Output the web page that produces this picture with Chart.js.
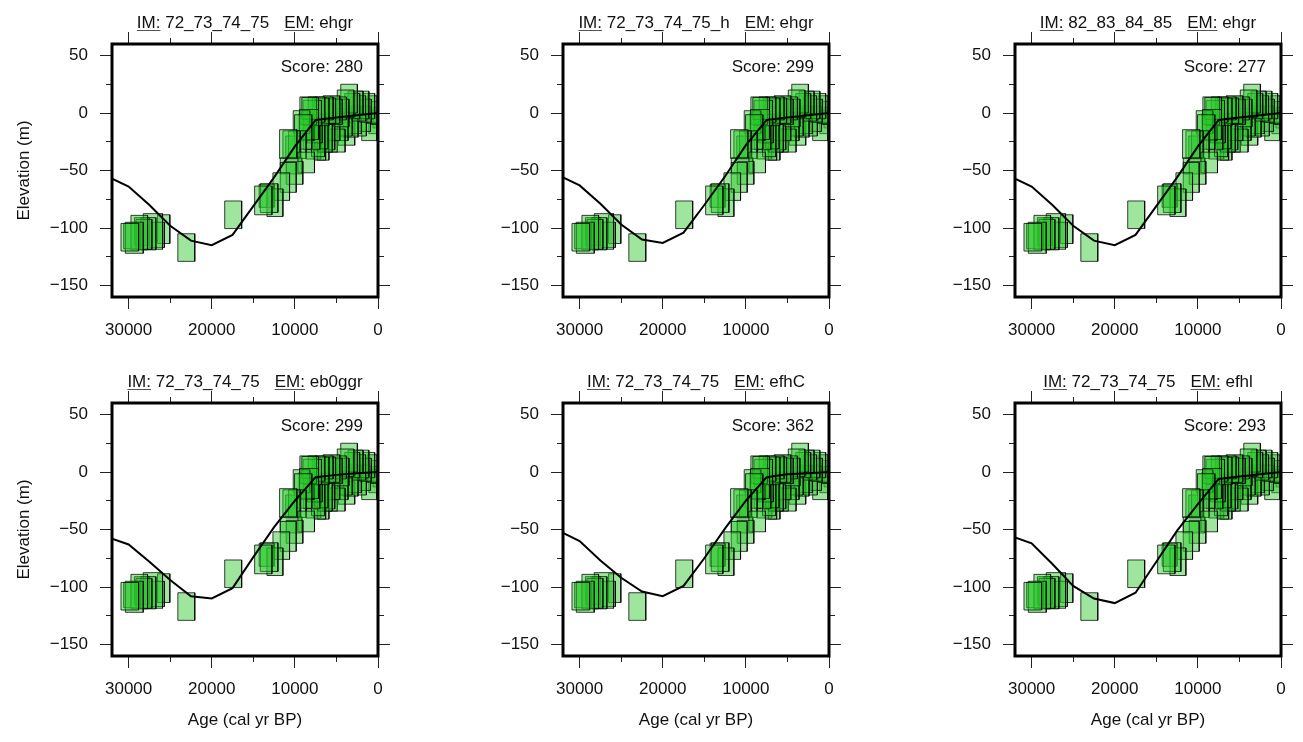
<!DOCTYPE html>
<html>
<head>
<meta charset="utf-8">
<script src="https://cdn.jsdelivr.net/npm/chart.js@4.4.0/dist/chart.umd.min.js"></script>
<style>
  html, body { margin: 0; padding: 0; background: #fff; }
  body { width: 1303px; height: 742px; position: relative; overflow: hidden; }
  canvas { position: absolute; }
</style>
</head>
<body>
<script>
// panel labels
const panelIM = ['72_73_74_75', '72_73_74_75_h', '82_83_84_85', '72_73_74_75', '72_73_74_75', '72_73_74_75'];
const panelEM = ['ehgr', 'ehgr', 'ehgr', 'eb0ggr', 'efhC', 'efhl'];
const panelScore = [280, 299, 277, 299, 362, 293];

// tick positions (labelled ones are every 10000 yr / 50 m)
const xTickValues = [0, 5000, 10000, 15000, 20000, 25000, 30000];
const yTickValues = [-150, -125, -100, -75, -50, -25, 0, 25, 50];

// model sea-level curves (age in cal yr BP, elevation in m)
const modelAge = [32000, 30000, 27500, 25000, 22500, 20000, 17500, 15000, 12500, 10000, 7500, 5000, 2500, 0];
const elevEhgr = [-57, -64, -80, -98, -111, -115, -106, -81, -56, -29, -6, -4, -2, 0];
const elevEhgrH = [-56, -63, -79, -97, -110, -113, -104, -80, -55, -28, -6, -4, -2, 0];
const elevEhgr82 = [-57, -64, -80, -98, -111, -115, -106, -81, -56, -29, -6, -4, -2, 0];
const elevEb0ggr = [-58, -63, -78, -94, -108, -110, -101, -74, -48, -25, -4.5, -2.5, -1, 0];
const elevEfhC = [-53, -60, -77, -92, -104, -108, -99, -75, -49, -25, -4.5, -2, -1, 0];
const elevEfhl = [-57, -62, -80, -99, -110, -114, -105, -78, -51, -28, -6, -4, -2, 0];
const panelElev = [elevEhgr, elevEhgrH, elevEhgr82, elevEb0ggr, elevEfhC, elevEfhl];

// sea-level indicators: age +- error, elevation +- error
const sampleAge = [29860, 29320, 28720, 28160, 27620, 27080, 26600, 25780, 29600, 28400,
  23060, 17420,
  13800, 13100, 12400, 13400, 11640, 10800, 10040, 8640, 10460,
  10800, 10400, 9700, 10200, 9000, 8300, 9200, 8160,
  8400, 7900, 7400, 6900, 6500, 6100, 5600, 5200, 4800, 4400, 3900, 3480, 3100, 2700, 2300, 1900, 1500, 1100, 700, 400,
  8600, 8000, 7600, 7200, 6800, 6400, 6000, 5500, 4960, 4500, 4000, 3300, 2800, 2200, 1600, 1060, 600, 300,
  7000, 6600, 7800, 3800, 5800];
const sampleAgeErr = [1060, 1080, 1000, 960, 900, 1160, 900, 740, 1000, 900,
  1020, 1020,
  1040, 1060, 960, 900, 1000, 960, 1000, 1000, 1300,
  1040, 1040, 1060, 900, 1040, 1140, 1000, 1000,
  1000, 1100, 1000, 1000, 1100, 1000, 1000, 900, 1000, 900, 1000, 1000, 900, 900, 800, 800, 700, 700, 600, 400,
  900, 1000, 900, 800, 800, 900, 800, 900, 1000, 900, 900, 900, 800, 800, 700, 900, 500, 300,
  700, 700, 900, 1000, 900];
const sampleElev = [-108, -108.5, -104, -105.5, -105, -103, -106, -101, -107, -103,
  -117, -88.5,
  -76, -74, -78, -72, -64, -56, -52, -43, -46,
  -27, -27.5, -27.5, -30, -16.5, -10, -8, 4,
  2, 0, 3, 1, 4, 2, 3, 1, 4, 0, 8, 12.5, 6, 9, 4, 7, 2, 6, 3, 0,
  -12, -18, -14, -20, -16, -22, -18, -12, -24, -14, -8, -10, -6, -10, -5, -16, -8, -4,
  -22, -25, -28, -18, -24];
const sampleElevErr = [12, 13.5, 15, 13, 14, 15.5, 11, 12.5, 11, 12,
  12, 12,
  12.5, 12.5, 12, 10, 12, 13, 10, 9, 7,
  12.5, 12, 12, 10, 15, 13, 10, 9.5,
  12, 11, 11, 12, 10, 11, 12, 11, 10, 12, 12, 12.5, 11, 10, 11, 12, 10, 11, 12, 10,
  12, 14, 12, 18, 15, 12, 14, 12, 10, 10, 12, 11, 12, 10, 11, 8, 10, 9,
  19, 16, 12, 10, 10];

const FONT_FAMILY = '"Liberation Sans", Arial, Helvetica, sans-serif';
const FONT_SIZE = 17;
const TEXT_COLOR = '#111';
const BOX_FILL = 'rgba(40, 200, 40, 0.45)';
const BOX_EDGE = 'rgba(0, 0, 0, 0.75)';

// layout of the 2x3 grid (frame positions in page pixels)
const colLeft = [112, 563, 1015];
const rowTop = [44, 403];
const PLOT_W = 266, PLOT_H = 253;
const PAD_L = 112, PAD_R = 20, PAD_T = 44, PAD_B = 85;

const font = { family: FONT_FAMILY, size: FONT_SIZE };

// frame, score and the underlined IM / EM title
const panelDecor = {
    id: 'panelDecor',
    afterDatasetsDraw(chart, args, opts) {
        const { ctx, chartArea: a } = chart;
        ctx.save();
        ctx.lineWidth = 3;
        ctx.strokeStyle = '#000';
        ctx.strokeRect(a.left, a.top, a.right - a.left, a.bottom - a.top);

        ctx.font = FONT_SIZE + 'px ' + FONT_FAMILY;
        ctx.fillStyle = TEXT_COLOR;
        ctx.textBaseline = 'alphabetic';
        ctx.textAlign = 'right';
        ctx.fillText('Score: ' + opts.score, a.right - 15, a.top + 28);

        ctx.textAlign = 'left';
        const parts = [
            { t: 'IM:', u: true },
            { t: ' ' + opts.im, u: false },
            { gap: 15 },
            { t: 'EM:', u: true },
            { t: ' ' + opts.em, u: false }
        ];
        let total = 0;
        parts.forEach(p => { p.w = p.gap || ctx.measureText(p.t).width; total += p.w; });
        let x = (a.left + a.right) / 2 - total / 2;
        const y = a.top - 16;
        parts.forEach(p => {
            if (p.t) {
                ctx.fillText(p.t, x, y);
                if (p.u) {
                    ctx.strokeStyle = '#555';
                    ctx.lineWidth = 1;
                    ctx.beginPath();
                    ctx.moveTo(x, y + 2.5);
                    ctx.lineTo(x + p.w, y + 2.5);
                    ctx.stroke();
                }
            }
            x += p.w;
        });
        ctx.restore();
    }
};

function minorDash(isMinor, outerFirst) {
    if (!isMinor) return [];
    return outerFirst ? [0, 6, 6, 100] : [6, 100];
}

function fmtElev(v) {
    return v < 0 ? '\u2212' + Math.abs(v) : String(v);
}

function xAxis(pos, showLabels, showTitle) {
    return {
        type: 'linear', position: pos, min: 0, max: 32000, reverse: true,
        border: { display: false },
        grid: {
            drawOnChartArea: false, drawTicks: true, tickLength: 12, tickColor: '#222', tickWidth: 1,
            tickBorderDash: c => minorDash(c.tick && c.tick.value % 10000 !== 0, pos === 'top')
        },
        ticks: {
            autoSkip: false, maxRotation: 0, minRotation: 0,
            padding: 11, color: TEXT_COLOR, font: font,
            callback: v => (showLabels && v % 10000 === 0) ? String(v) : ''
        },
        title: { display: showTitle, text: 'Age (cal yr BP)', color: TEXT_COLOR, font: font, padding: { top: 0, bottom: 10 } },
        afterBuildTicks: s => { s.ticks = xTickValues.map(v => ({ value: v })); },
        afterFit: s => { s.height = pos === 'top' ? PAD_T : PAD_B; }
    };
}

function yAxis(pos, showLabels, showTitle) {
    return {
        type: 'linear', position: pos, min: -160, max: 60,
        border: { display: false },
        grid: {
            drawOnChartArea: false, drawTicks: true, tickLength: 12, tickColor: '#222', tickWidth: 1,
            tickBorderDash: c => minorDash(c.tick && c.tick.value % 50 !== 0, pos === 'left')
        },
        ticks: {
            autoSkip: false,
            padding: 12, color: TEXT_COLOR, font: font,
            callback: v => (showLabels && v % 50 === 0) ? fmtElev(v) : ''
        },
        title: { display: showTitle, text: 'Elevation (m)', color: TEXT_COLOR, font: font, padding: { top: 14, bottom: 0 } },
        afterBuildTicks: s => { s.ticks = yTickValues.map(v => ({ value: v })); },
        afterFit: s => { s.width = pos === 'left' ? PAD_L : PAD_R; }
    };
}

function boxDatasets() {
    return sampleAge.map((a, i) => {
        const x0 = a - sampleAgeErr[i], x1 = a + sampleAgeErr[i];
        const y0 = sampleElev[i] - sampleElevErr[i], y1 = sampleElev[i] + sampleElevErr[i];
        return {
            data: [{ x: x0, y: y0 }, { x: x1, y: y0 }, { x: x1, y: y1 }, { x: x0, y: y1 }, { x: x0, y: y0 }],
            showLine: true, fill: 'shape', tension: 0,
            backgroundColor: BOX_FILL, borderColor: BOX_EDGE, borderWidth: 1,
            pointRadius: 0
        };
    });
}

for (let p = 0; p < 6; p++) {
    const row = Math.floor(p / 3), col = p % 3;
    const canvas = document.createElement('canvas');
    const w = PAD_L + PLOT_W + PAD_R, h = PAD_T + PLOT_H + PAD_B;
    canvas.width = w; canvas.height = h;
    canvas.style.width = w + 'px'; canvas.style.height = h + 'px';
    canvas.style.left = (colLeft[col] - PAD_L) + 'px';
    canvas.style.top = (rowTop[row] - PAD_T) + 'px';
    document.body.appendChild(canvas);

    const elev = panelElev[p];
    const modelLine = {
        data: modelAge.map((a, i) => ({ x: a, y: elev[i] })),
        showLine: true, fill: false, tension: 0,
        borderColor: '#000', borderWidth: 2, pointRadius: 0
    };

    new Chart(canvas.getContext('2d'), {
        type: 'scatter',
        data: { datasets: [modelLine].concat(boxDatasets()) },
        options: {
            responsive: false,
            maintainAspectRatio: false,
            animation: false,
            events: [],
            layout: { padding: 0 },
            scales: {
                x: xAxis('bottom', true, row === 1),
                xTop: xAxis('top', false, false),
                y: yAxis('left', true, col === 0),
                yRight: yAxis('right', false, false)
            },
            plugins: {
                legend: { display: false },
                tooltip: { enabled: false },
                panelDecor: { score: panelScore[p], im: panelIM[p], em: panelEM[p] }
            }
        },
        plugins: [panelDecor]
    });
}
</script>
</body>
</html>
